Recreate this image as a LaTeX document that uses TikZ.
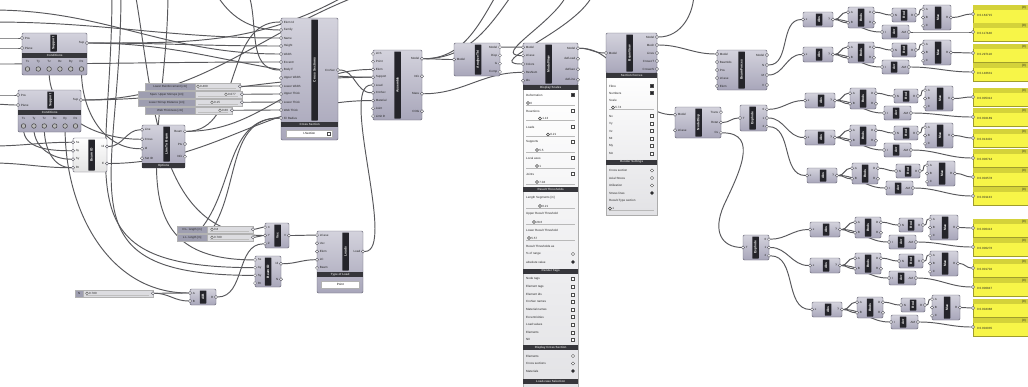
\documentclass[tikz,border=0pt]{standalone}
\usepackage{fontspec}
\setmainfont{Liberation Sans}
\pgfdeclarelayer{back}
\pgfdeclarelayer{bg}
\pgfsetlayers{back,bg,main}

\definecolor{compfill}{RGB}{168,166,186}
\definecolor{compedge}{RGB}{100,99,114}
\definecolor{barfill}{RGB}{36,36,42}
\definecolor{panfill}{RGB}{226,226,229}
\definecolor{wirecol}{RGB}{88,88,92}
\definecolor{ylw}{RGB}{247,245,72}
\definecolor{ylwtop}{RGB}{212,210,58}
\definecolor{sliderfill}{RGB}{220,220,224}
\definecolor{sliderlab}{RGB}{158,158,176}

\newcount\lblc
\tikzset{
  nm/.code={\global\advance\lblc by 1\relax\pgfkeysalso{name=lb\the\lblc}},
  comp/.style={draw=compedge, top color=compfill!50!white, bottom color=compfill,
    rounded corners=1.2pt, line width=0.45pt, inner sep=0, outer sep=0},
  lightc/.style={comp, top color=white, bottom color=gray!22},
  ghost/.style={inner sep=0, outer sep=0},
  bar/.style={fill=barfill, text=white, inner sep=0, rounded corners=0.4pt,
    font=\fontsize{3.3}{3.3}\selectfont\bfseries},
  secbar/.style={fill=barfill!92!white, text=white!80!black, inner sep=0, anchor=north west,
    font=\fontsize{3}{3}\selectfont\bfseries},
  port/.style={circle, draw=compedge!80!black, fill=gray!12, line width=0.3pt,
    minimum size=3.2pt, inner sep=0},
  plab/.style={inner sep=0, font=\fontsize{3}{3}\selectfont, text=black!85, nm},
  wire/.style={draw=wirecol, line width=0.95pt, line cap=round},
  fw/.style={out=0, in=180},
  panelbox/.style={draw=gray!65, top color=white, bottom color=panfill, line width=0.4pt,
    inner sep=0, anchor=north west},
  cbox/.style={draw=black!70, fill=white, minimum size=3pt, inner sep=0, line width=0.4pt, nm},
  cboxon/.style={cbox, fill=barfill},
  rad/.style={circle, draw=black!70, fill=white, minimum size=3.2pt, inner sep=0, line width=0.4pt, nm},
  radon/.style={rad, fill=barfill},
  knob/.style={circle, draw=black!75, fill=white, minimum size=3pt, inner sep=0, line width=0.4pt, nm},
  btn/.style={circle, draw=black!75, fill=gray!55, minimum size=4.6pt, inner sep=0, line width=0.5pt},
  sldbody/.style={draw=gray!60, fill=sliderfill, inner sep=0, anchor=north west, line width=0.35pt},
  sldlab/.style={draw=gray!60, fill=sliderlab, inner sep=0, anchor=north west, line width=0.35pt,
    font=\fontsize{2.9}{2.9}\selectfont, text=black!85, nm},
  drop/.style={draw=gray!60, fill=white, inner sep=0, anchor=north west, line width=0.4pt,
    font=\fontsize{3}{3}\selectfont},
  ylwpanel/.style={draw=ylwtop!75!black, fill=ylw, inner sep=0, anchor=north west, line width=0.4pt},
}

% ports of one side of a component, spread evenly over its height
\newcommand\gports[8]{%
  \gdef\gn{0}%
  \foreach \gplab in {#5}{\xdef\gn{\the\numexpr\gn+1\relax}}%
  \foreach \gplab [count=\gk] in {#5}{%
    \node[port] (#1-#6\gk) at ({#2},{#3+(\gk-0.5)*#4/\gn}) {};
    \node[plab, anchor=#7] at ({#2+(#8)},{#3+(\gk-0.5)*#4/\gn}) {\gplab};
  }%
}
% component: name, x, y, width, height, bar offset, title, inputs, outputs
\def\gkind{comp}
\newcommand\gcomp[9]{%
  \node[\gkind, minimum width=#4pt, minimum height=#5pt, anchor=north west] (#1) at ({#2},{#3}) {};
  \node[bar, rotate=90, minimum width=#5pt-3pt, minimum height=6.5pt] (#1-bar) at ({#2+#6},{#3+#5/2}) {#7};
  \gports{#1}{#2}{#3}{#5}{#8}{in}{west}{2.6}
  \gports{#1}{#2+#4}{#3}{#5}{#9}{out}{east}{-2.6}
}
% support component with its condition buttons
\newcommand\gsupport[5]{%
  \node[comp, minimum width=#4pt, minimum height=42pt, anchor=north west] (#1) at ({#2},{#3}) {};
  \def\gkind{ghost}%
  \gcomp{#1h}{#2}{#3}{#4}{20}{#5}{Support}{Pos,Plane}{Sup}
  \def\gkind{comp}%
  \node[secbar, minimum width=#4pt, minimum height=5pt] (#1c) at ({#2},{#3+20}) {Conditions};
  \foreach \lab [count=\k] in {Tx,Ty,Tz,Rx,Ry,Rz}{
    \node[plab] at ({#2+5.5+(\k-1)*(#4-11)/5},{#3+28.5}) {\lab};
    \node[btn] (#1-b\k) at ({#2+5.5+(\k-1)*(#4-11)/5},{#3+36}) {};
  }
}
% number slider: name, x, y, label width, total width, label, value, knob x
\newcommand\gslider[8]{%
  \node[sldbody, minimum width=#5pt, minimum height=6.5pt] (#1) at ({#2},{#3}) {};
  \node[sldlab, minimum width=#4pt, minimum height=6.5pt] at ({#2},{#3}) {#6};
  \draw[gray!50, line width=0.35pt] ({#2+#4+3},{#3+4.8}) -- ({#2+#5-4},{#3+4.8});
  \node[knob, minimum size=2.6pt] at ({#8},{#3+3.25}) {};
  \node[plab, anchor=west] at ({#8+2},{#3+3.25}) {#7};
  \node[port] (#1-out) at ({#2+#5},{#3+3.25}) {};
}
% rows of the expanded parameter panels
\newcommand\prow[5]{%
  \node[plab, anchor=west] at ({#1+3},{#3}) {#4};
  \if\relax\detokenize{#5}\relax\else\node[#5] at ({#2-5},{#3}) {};\fi
}
\newcommand\pslide[5]{%
  \draw[gray!55, line width=0.35pt] ({#1+3},{#3+2}) -- ({#2-3},{#3+2});
  \node[knob] at ({#4},{#3}) {};
  \node[plab, anchor=west] at ({#4+2.2},{#3}) {#5};
}
% yellow output panel
\newcommand\ypanel[3]{%
  \node[ylwpanel, minimum width=62pt, minimum height=18pt] (#1) at (973,{#2}) {};
  \fill[ylwtop] (973.25,{#2+0.25}) rectangle (1036,{#2+4.6});
  \node[plab, anchor=east] at (1026,{#2+2.5}) {\{0\}};
  \node[plab, anchor=west] at (977,{#2+10.5}) {#3};
  \node[port] (#1-in) at (973,{#2+9}) {};
}
% one evaluation row: id, x, y, panel tops, panel texts
\newcommand\chain[7]{%
  \gcomp{ab#1}{#2}{#3}{30}{15}{16}{Abs}{x}{y}
  \gcomp{bn#1}{#2+45}{#3-5}{26}{21}{13}{Bnds}{A,B}{D,R}
  \gcomp{dc#1}{#2+89}{#3-4}{24}{14}{12}{Rnd}{N}{R}
  \gcomp{mx#1}{#2+120}{#3-7}{28}{25}{15}{Max}{A,B,C}{R}
  \gcomp{av#1}{#2+79}{#3+13}{27}{14}{12}{Avr}{I}{AM}
  \ypanel{pa#1}{#4}{#6}
  \ypanel{pb#1}{#5}{#7}
  \begin{pgfonlayer}{bg}
    \draw[wire] (ab#1-out1) to[fw] (bn#1-in1);
    \draw[wire] (ab#1-out1) to[fw] (bn#1-in2);
    \draw[wire] (ab#1-out1) to[fw] (av#1-in1);
    \draw[wire] (bn#1-out1) to[fw] (dc#1-in1);
    \draw[wire] (dc#1-out1) to[fw] (mx#1-in1);
    \draw[wire] (mx#1-out1) to[fw] (pa#1-in);
    \draw[wire] (av#1-out1) to[fw] (pb#1-in);
  \end{pgfonlayer}
}

\begin{document}
\begin{tikzpicture}[x=1pt,y=-1pt]
\begin{pgfonlayer}{back}
  \fill[white] (0,0) rectangle (1028,386);
\end{pgfonlayer}
\useasboundingbox (0,0) rectangle (1028,386);

% ---------------- supports and beam definition
\gsupport{S1}{22}{33}{65}{31.5}
\gsupport{S2}{18}{90}{63}{32.5}

\def\gkind{lightc}
\gcomp{BID}{73}{138}{34}{34}{18.5}{Beam ID}{Ss,Ay,Sy,Rt}{Id,E}
\def\gkind{comp}

\node[comp, minimum width=43pt, minimum height=43pt, anchor=north west] (LTB) at (142,125) {};
\def\gkind{ghost}
\gcomp{LTBh}{142}{125}{43}{38}{24.5}{Line To Beam}{Line,Cross,Id,Set ID}{Beam,Pts,Info}
\def\gkind{comp}
\node[secbar, minimum width=43pt, minimum height=5pt] (LTBo) at (142,163) {Options};

% ---------------- cross section dimensions
\gslider{SR1}{145}{83}{50}{95}{Lower Reinforcement [cm]}{0.400}{198}
\gslider{SR2}{138}{91}{57}{104}{Span. Upper Stirrups [cm]}{0.077}{226}
\gslider{SR3}{138}{99}{57}{104}{Lower Stirrup Distance [cm]}{0.15}{212}
\gslider{SR4}{145}{107}{50}{87}{Web Thickness [cm]}{0.60}{220}

\node[comp, minimum width=57pt, minimum height=122pt, anchor=north west] (CSb) at (281,18) {};
\def\gkind{ghost}
\gcomp{CS}{281}{18}{57}{104}{33.5}{Cross Sections}{Elem Id,Family,Name,Height,Width,Eccentr,Body F,Upper Width,Lower Width,Upper Thick,Lower Thick,Web Thick,Fil Radius}{CroSec}
\def\gkind{comp}
\node[secbar, minimum width=57pt, minimum height=5pt] (CSs) at (281,122) {Cross Section};
\node[drop, minimum width=46pt, minimum height=7pt] (CSd) at (286,130) {I-Section};
\node[cbox] (CSdb) at (329,133.5) {};

% ---------------- model assembly and analysis
\gcomp{Asm}{373}{50}{49}{70}{24.5}{Assemble}{LCS,Point,Elem,Support,Load,CroSec,Material,Joint,Limit D}{Model,Info,Mass,COG}
\gcomp{Ana}{454}{43}{46}{33}{24}{AnalyzeThI}{Model}{Model,Disp,G,Comp}

% ---------------- model view with its settings panel
\gcomp{MV}{523}{43}{55}{42}{25.5}{ModelView}{Model,LCase,Colors,ResNum,Ids}{Model,defLoad,defGeo,defLine}
\node[panelbox, minimum width=55pt, minimum height=310pt] (MVp) at (523,85) {};
\node[secbar, minimum width=55pt, minimum height=5pt] (MVs1) at (523,85) {Display Scales};
\prow{523}{578}{95}{Deformation}{cboxon}
\pslide{523}{578}{103}{528}{0}
\prow{523}{578}{111}{Reactions}{cbox}
\pslide{523}{578}{118.5}{540}{1.13}
\prow{523}{578}{127}{Loads}{cbox}
\pslide{523}{578}{134.5}{548}{0.21}
\prow{523}{578}{142}{Supports}{cbox}
\pslide{523}{578}{150}{537}{5.5}
\prow{523}{578}{158}{Local axes}{cbox}
\pslide{523}{578}{166}{537}{1}
\prow{523}{578}{174}{Joints}{cbox}
\pslide{523}{578}{182}{537}{7.04}
\node[secbar, minimum width=55pt, minimum height=5pt] (MVs2) at (523,187) {Result Thresholds};
\prow{523}{578}{198}{Length Segments [m]}{}
\pslide{523}{578}{206}{540}{0.21}
\prow{523}{578}{214}{Upper Result Threshold}{}
\pslide{523}{578}{222}{534}{28.6}
\prow{523}{578}{230}{Lower Result Threshold}{}
\pslide{523}{578}{238}{529}{5.57}
\prow{523}{578}{246}{Result Thresholds as}{}
\prow{523}{578}{254}{\% of range}{rad}
\prow{523}{578}{262}{absolute value}{radon}
\node[secbar, minimum width=55pt, minimum height=5pt] (MVs3) at (523,268.5) {Render Tags};
\foreach \lab [count=\k] in {Node tags,Element tags,Element ids,CroSec names,Material names,Eccentricities,Load values,Elements,NII}{
  \prow{523}{578}{279+(\k-1)*7.6}{\lab}{cbox}
}
\node[secbar, minimum width=55pt, minimum height=5pt] (MVs4) at (523,345) {Display Cross Section};
\prow{523}{578}{356}{Elements}{rad}
\prow{523}{578}{363.5}{Cross sections}{rad}
\prow{523}{578}{371}{Materials}{radon}
\node[secbar, minimum width=55pt, minimum height=5pt] (MVs5) at (523,378.5) {Load-case Selection};

% ---------------- beam view with its settings panel
\gcomp{BV}{606}{33}{51}{40}{23.5}{BeamView}{Model}{Model,Mesh,Lines,CrosecT,CrosecS}
\node[panelbox, minimum width=51pt, minimum height=142pt] (BVp) at (606,73) {};
\node[secbar, minimum width=51pt, minimum height=5pt] (BVs1) at (606,73) {Section Forces};
\prow{606}{657}{86}{Fibre}{cboxon}
\prow{606}{657}{93}{Numbers}{cboxon}
\prow{606}{657}{100}{Scale}{}
\pslide{606}{657}{107.5}{613}{5.74}
\foreach \lab [count=\k] in {Nx,Vy,Vz,Mt,My,Mz}{
  \prow{606}{657}{116+(\k-1)*7.5}{\lab}{cbox}
}
\node[secbar, minimum width=51pt, minimum height=5pt] (BVs2) at (606,159.5) {Render Settings};
\prow{606}{657}{170.5}{Cross section}{rad}
\prow{606}{657}{178}{Axial Stress}{rad}
\prow{606}{657}{185.5}{Utilization}{rad}
\prow{606}{657}{193}{Stress lines}{radon}
\prow{606}{657}{201}{Result-Type section}{}
\pslide{606}{657}{208.5}{610}{1}

% ---------------- result extraction
\gcomp{ND}{675}{107}{46}{31}{23.5}{NodeDisp}{Model,LCase}{Trans,Rotat,Cs}
\gcomp{BF}{717}{50}{50}{40}{24.5}{BeamForces}{Model,BeamIds,Pos,LCase,Elem}{Model,N,M,V}
\gcomp{D1}{740}{105}{27}{26}{12.5}{Explode}{T}{0,1,2}
\gcomp{D2}{743}{235}{26}{25}{12.5}{Explode}{T}{0,1,2}

% ---------------- loads
\gslider{SLa}{177}{226}{30}{76}{D.L. length [m]}{0.8}{212}
\gslider{SLb}{177}{234}{30}{76}{L.L. length [m]}{0.780}{212}
\gslider{SLn}{75}{290}{8}{78}{N}{0.780}{87}
\gcomp{Vec}{265}{223}{24}{25}{12.5}{Vec}{X,Y,Z}{V}
\gcomp{BID2}{255}{256}{26}{31}{13}{Beam ID}{Ss,Ay,Sy,Rt}{Id,N}
\gcomp{AB}{190}{289}{26}{16}{13}{A/B}{A,B}{R}
\node[comp, minimum width=46pt, minimum height=62pt, anchor=north west] (Ldb) at (317,231) {};
\def\gkind{ghost}
\gcomp{Lds}{317}{231}{46}{41}{28.5}{Loads}{LCase,Vec,Elem,LC,Beam}{Load}
\def\gkind{comp}
\node[secbar, minimum width=46pt, minimum height=5pt] (Ldss) at (317,272) {Type of Load};
\node[drop, minimum width=38pt, minimum height=7pt] (Ldd) at (321,281) {Point};

% ---------------- evaluation rows
\chain{1}{803}{12}{5}{23}{0 0.163715}{0 0.117448}
\chain{2}{803}{47}{44}{63}{0 0.297118}{0 0.146631}
\chain{3}{805}{93}{88}{108}{0 0.005312}{0 0.002189}
\chain{4}{805}{130}{129}{149}{0 0.013401}{0 0.006744}
\chain{5}{807}{168}{168}{187}{0 0.002578}{0 0.001133}
\chain{6}{810}{222}{219}{238}{0 0.000413}{0 0.000276}
\chain{7}{810}{258}{259}{278}{0 0.001702}{0 0.000847}
\chain{8}{812}{302}{299}{318}{0 0.004388}{0 0.002035}

% ---------------- free wire ends beyond the canvas
\coordinate (tA) at (112,-8);
\coordinate (tB) at (121,-8);
\coordinate (tC) at (168,-8);
\coordinate (tD) at (215,-8);
\coordinate (tE) at (248,-8);
\coordinate (tF) at (352,-8);
\coordinate (tG) at (368,-8);
\coordinate (tH) at (498,-8);
\coordinate (tI) at (514,-8);
\coordinate (tJ) at (568,-8);
\coordinate (tK) at (594,-8);
\coordinate (tL) at (694,-8);
\coordinate (tM) at (135,-8);
\coordinate (lA) at (-8,38);
\coordinate (lB) at (-8,48);
\coordinate (lC) at (-8,95);
\coordinate (lD) at (-8,104);
\coordinate (lE) at (-8,146);
\coordinate (lF) at (-8,163);
\coordinate (lG) at (-8,22);
\coordinate (lH) at (-8,10);
\coordinate (lI) at (-8,64);
\coordinate (hA) at (200,230);
\coordinate (hB) at (206,238);

\begin{pgfonlayer}{bg}
  % inputs on the left
  \draw[wire] (lA) to[fw] (S1h-in1);
  \draw[wire] (lB) to[fw] (S1h-in2);
  \draw[wire] (lC) to[fw] (S2h-in1);
  \draw[wire] (lD) to[fw] (S2h-in2);
  \draw[wire] (lE) to[fw] (BID-in1);
  \draw[wire] (lF) to[fw] (BID-in4);
  \draw[wire] (S2-b1) to[out=-90,in=180] (BID-in2);
  \draw[wire] (S2-b2) to[out=-90,in=180] (BID-in3);
  \draw[wire] (S2-b3) to[out=-90,in=180] (BID-in4);
  \draw[wire] (S1-b3) to[out=-90,in=180] (LTBh-in2);
  \draw[wire] (S1-b6) to[out=-90,in=180] (LTBh-in3);
  \draw[wire] (S2-b5) to[out=-90,in=180] (AB-in1);
  \draw[wire] (tA) to[out=-90,in=180,looseness=1.6] (BID2-in2);
  \draw[wire] (tB) to[out=-90,in=180,looseness=1.6] (BID2-in3);
  \draw[wire] (tC) to[out=-90,in=180,looseness=1.3] (BID2-in1);
  \draw[wire] (tM) to[out=-80,in=180] (Vec-in2);
  % crossing wires at the top
  \draw[wire] (lG) to[fw] (CS-in3);
  \draw[wire] (lH) to[fw] (CS-in5);
  \draw[wire] (lI) to[fw] (CS-in6);
  \draw[wire] (tD) to[out=-60,in=180] (CS-in2);
  \draw[wire] (tE) to[out=-70,in=180] (CS-in7);
  \draw[wire] (S1h-out1) to[out=0,in=-150] (tF);
  \draw[wire] (S2h-out1) to[out=0,in=-160] (tG);
  \draw[wire] (S1h-out1) to[fw] (CS-in4);
  \draw[wire] (S1h-out1) to[fw] (Asm-in4);
  \draw[wire] (S2h-out1) to[fw] (Asm-in4);
  \draw[wire] (BID-out1) to[fw] (LTBh-in1);
  \draw[wire] (BID-out2) to[fw] (Asm-in7);
  \draw[wire] (LTBh-out1) to[fw] (Asm-in3);
  \draw[wire] (LTBh-out1) to[fw] (CS-in1);
  % cross section dimensions
  \draw[wire] (SR1-out) to[fw] (CS-in9);
  \draw[wire] (SR2-out) to[fw] (CS-in10);
  \draw[wire] (SR3-out) to[fw] (CS-in11);
  \draw[wire] (SR4-out) to[fw] (CS-in12);
  \draw[wire] (hA) to[out=50,in=180] (CS-in13);
  \draw[wire] (hB) to[out=50,in=180] (CS-in13);
  % loads
  \draw[wire] (SLn-out) to[fw] (AB-in1);
  \draw[wire] (SLn-out) to[fw] (AB-in2);
  \draw[wire] (AB-out1) to[fw] (Vec-in3);
  \draw[wire] (SLa-out) to[fw] (Vec-in1);
  \draw[wire] (SLb-out) to[fw] (Vec-in2);
  \draw[wire] (Vec-out1) to[fw] (Lds-in1);
  \draw[wire] (BID2-out1) to[fw] (Lds-in4);
  \draw[wire] (Lds-out1) to[out=0,in=180,looseness=0.5] (Asm-in5);
  % assembly, analysis and views
  \draw[wire] (CS-out1) to[fw] (Asm-in6);
  \draw[wire] (Asm-out1) to[fw] (Ana-in1);
  \draw[wire] (Asm-out1) to[out=0,in=-120] (tH);
  \draw[wire] (Asm-out1) to[out=0,in=-125] (tI);
  \draw[wire] (Asm-out3) to[fw] (MV-in4);
  \draw[wire] (Ana-out1) to[fw] (MV-in1);
  \draw[wire] (tJ) to[out=-110,in=180] (MV-in2);
  \draw[wire] (tK) to[out=-110,in=180] (MV-in3);
  \draw[wire] (MV-out1) to[fw] (BV-in1);
  \draw[wire] (MV-out1) to[fw] (ND-in1);
  \draw[wire] (BV-out1) to[out=0,in=-90] (tL);
  \draw[wire] (BV-out2) to[fw] (BF-in1);
  % results
  \draw[wire] (BF-out2) to[fw] (ab1-in1);
  \draw[wire] (BF-out3) to[fw] (ab2-in1);
  \draw[wire] (ND-out2) to[fw] (D1-in1);
  \draw[wire] (ND-out3) .. controls (760,133) and (738,175) .. (724,205)
                        .. controls (712,232) and (722,247) .. (D2-in1);
  \draw[wire] (D1-out1) to[fw] (ab3-in1);
  \draw[wire] (D1-out2) to[fw] (ab4-in1);
  \draw[wire] (D1-out3) to[fw] (ab5-in1);
  \draw[wire] (D2-out1) to[fw] (ab6-in1);
  \draw[wire] (D2-out2) to[fw] (ab7-in1);
  \draw[wire] (D2-out3) to[fw] (ab8-in1);
\end{pgfonlayer}
\end{tikzpicture}
\end{document}
